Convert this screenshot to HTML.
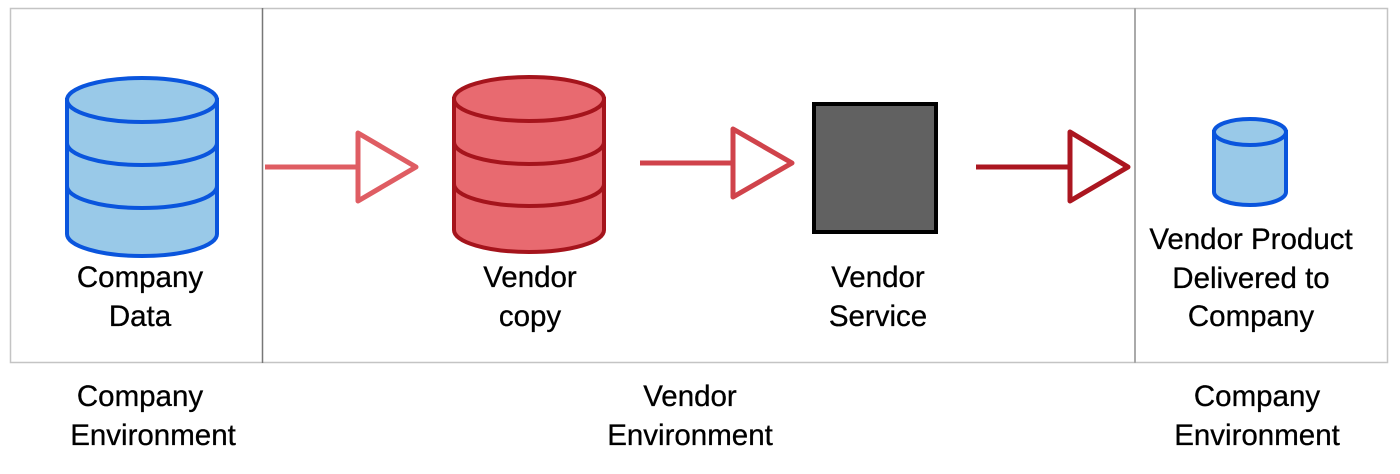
<!DOCTYPE html>
<html><head><meta charset="utf-8"><style>
html,body{margin:0;padding:0;background:#fff;width:1400px;height:474px;overflow:hidden}
text{font-family:"Liberation Sans",sans-serif;font-size:29.5px;fill:#000;text-anchor:middle;stroke:#000;stroke-width:0.3}
</style></head><body>
<svg width="1400" height="474" viewBox="0 0 1400 474">
<rect x="10.5" y="8.5" width="1377" height="354" fill="#fff" stroke="#c4c4c4" stroke-width="1.5"/>
<line x1="262.5" y1="8" x2="262.5" y2="363" stroke="#777" stroke-width="1.5"/>
<line x1="1135" y1="8" x2="1135" y2="363" stroke="#aaa" stroke-width="2"/>

<g fill="#99c9e8" stroke="#0a55dd" stroke-width="4">
<path d="M67 100 L67 234 A75 22 0 0 0 217 234 L217 100 Z"/>
<ellipse cx="142" cy="100" rx="75" ry="22"/>
<path d="M67 143 A75 22 0 0 0 217 143 M67 186 A75 22 0 0 0 217 186" fill="none"/>
</g>
<g fill="#e86a70" stroke="#a5141c" stroke-width="4">
<path d="M454 99 L454 230 A75 22 0 0 0 604 230 L604 99 Z"/>
<ellipse cx="529" cy="99" rx="75" ry="22"/>
<path d="M454 142 A75 22 0 0 0 604 142 M454 184 A75 22 0 0 0 604 184" fill="none"/>
</g>
<g fill="#99c9e8" stroke="#0a55dd" stroke-width="4">
<path d="M1214 132 L1214 192 A36 13 0 0 0 1286 192 L1286 132 Z"/>
<ellipse cx="1250" cy="132" rx="36" ry="13"/>
</g>
<rect x="814" y="104" width="122" height="128" fill="#616161" stroke="#000" stroke-width="4"/>

<line x1="265" y1="167" x2="357" y2="167" stroke="#df5d63" stroke-width="5"/>
<path d="M358 133 L416 167 L358 201 Z" fill="#fff" stroke="#df5d63" stroke-width="5" stroke-linejoin="round"/>
<line x1="640" y1="163" x2="732" y2="163" stroke="#d0434b" stroke-width="5"/>
<path d="M733 129 L792 163 L733 197 Z" fill="#fff" stroke="#d0434b" stroke-width="5" stroke-linejoin="round"/>
<line x1="976" y1="167" x2="1070" y2="167" stroke="#ab1620" stroke-width="5"/>
<path d="M1070 132 L1128 167 L1070 201 Z" fill="#fff" stroke="#ab1620" stroke-width="5" stroke-linejoin="round"/>

<text x="140" y="287">Company</text><text x="140" y="326">Data</text>
<text x="530" y="287">Vendor</text><text x="530" y="326">copy</text>
<text x="878" y="287">Vendor</text><text x="878" y="326">Service</text>
<text x="1251" y="249">Vendor Product</text><text x="1251" y="288">Delivered to</text><text x="1251" y="326">Company</text>
<text x="140" y="406">Company</text><text x="153" y="445">Environment</text>
<text x="690" y="406">Vendor</text><text x="690" y="445">Environment</text>
<text x="1257" y="406">Company</text><text x="1257" y="445">Environment</text>
</svg>
</body></html>
